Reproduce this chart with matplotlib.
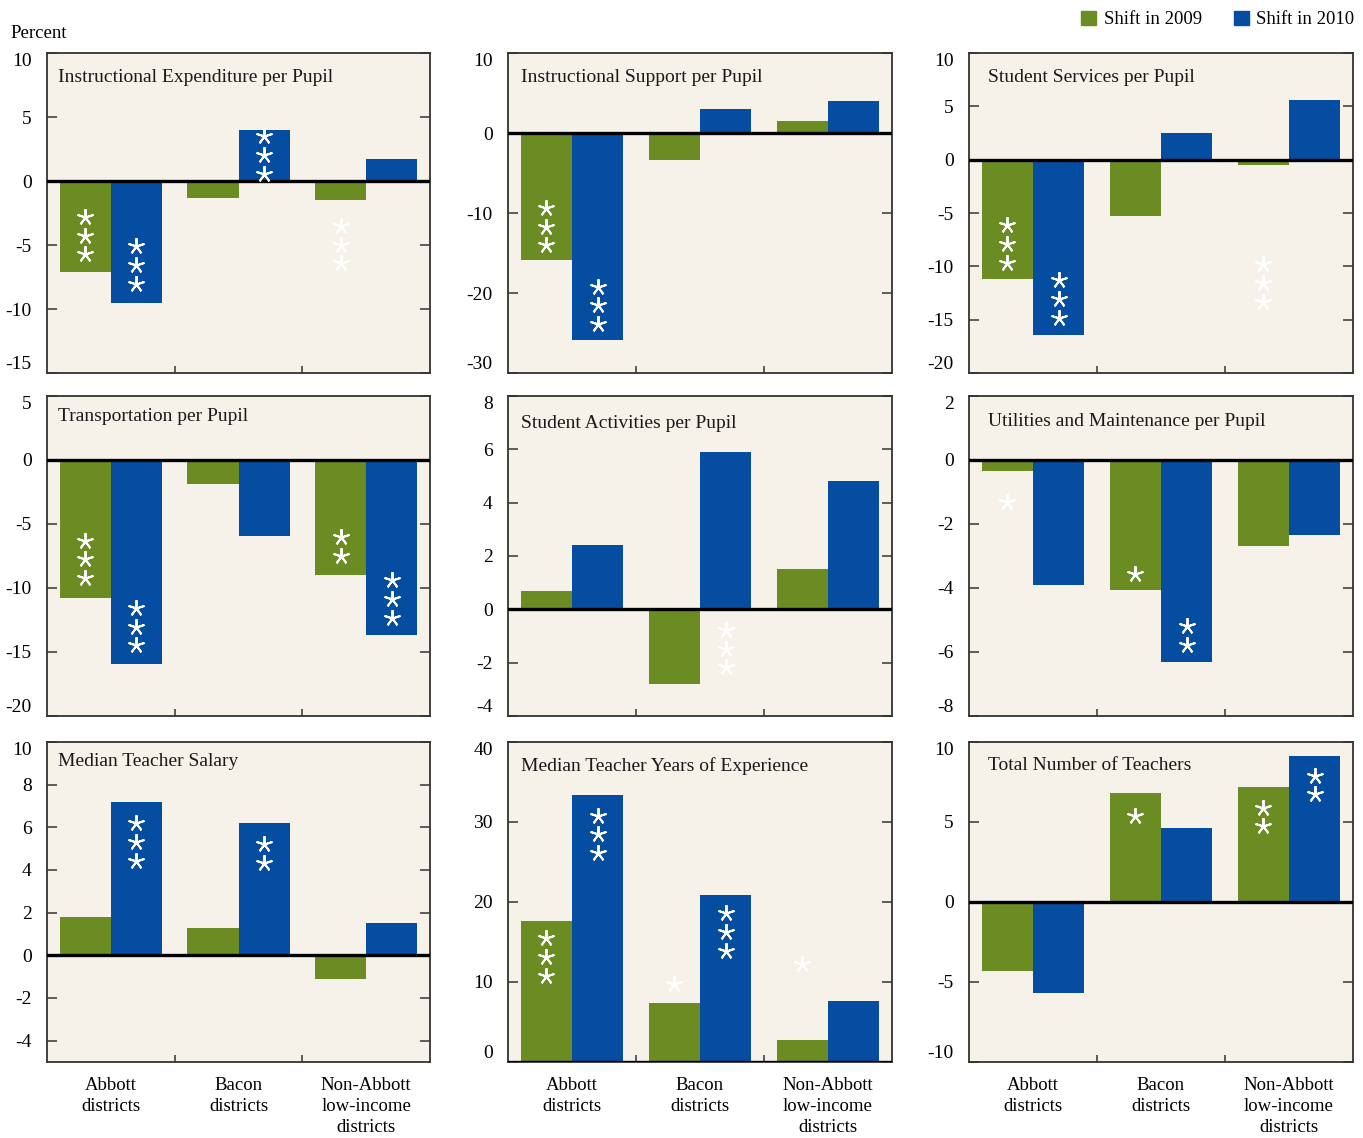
import matplotlib.pyplot as plt
from matplotlib.patches import Patch
from matplotlib.transforms import offset_copy

plt.rcParams['font.family'] = ['Liberation Serif', 'DejaVu Serif']
plt.rcParams['axes.unicode_minus'] = False

# Panel titles and district groups
titles = [
    "Instructional Expenditure per Pupil",
    "Instructional Support per Pupil",
    "Student Services per Pupil",
    "Transportation per Pupil",
    "Student Activities per Pupil",
    "Utilities and Maintenance per Pupil",
    "Median Teacher Salary",
    "Median Teacher Years of Experience",
    "Total Number of Teachers",
]
groups = ["Abbott\ndistricts", "Bacon\ndistricts", "Non-Abbott\nlow-income\ndistricts"]

# Percent shifts (Abbott, Bacon, Non-Abbott) for each panel
shift_2009 = [
    [-7.1, -1.3, -1.5],
    [-15.9, -3.4, 1.5],
    [-11.2, -5.3, -0.5],
    [-10.8, -1.9, -9.0],
    [0.7, -2.8, 1.5],
    [-0.35, -4.05, -2.7],
    [1.8, 1.3, -1.1],
    [17.6, 7.4, 2.8],
    [-4.3, 6.8, 7.2],
]
shift_2010 = [
    [-9.5, 4.0, 1.7],
    [-25.9, 3.0, 4.0],
    [-16.4, 2.5, 5.6],
    [-15.9, -5.9, -13.7],
    [2.4, 5.9, 4.8],
    [-3.9, -6.3, -2.35],
    [7.2, 6.2, 1.5],
    [33.4, 20.9, 7.6],
    [-5.7, 4.6, 9.1],
]

# Significance stars (count) and where the first star sits
stars_2009 = [[3, 0, 3], [3, 0, 0], [3, 0, 3], [3, 0, 2], [0, 0, 0],
              [1, 1, 0], [0, 0, 0], [3, 1, 1], [0, 1, 2]]
stars_2010 = [[3, 3, 0], [3, 0, 0], [3, 0, 0], [3, 0, 3], [0, 3, 0],
              [0, 2, 0], [3, 2, 0], [3, 3, 0], [0, 0, 2]]
star_y_2009 = [[-2.8, 0, -3.5], [-9.35, 0, 0], [-6.15, 0, -9.8], [-6.3, 0, -6.05],
               [0, 0, 0], [-1.32, -3.55, 0], [0, 0, 0], [15.5, 9.8, 12.2], [0, 5.4, 5.9]]
star_y_2010 = [[-5.1, 3.5, 0], [-19.2, 0, 0], [-11.3, 0, 0], [-11.55, 0, -9.4],
               [0, -0.77, 0], [0, -5.2, 0], [6.2, 5.2, 0], [30.8, 18.6, 0], [0, 0, 7.9]]

# Axis ranges and tick marks
y_limits = [(-15, 10), (-30, 10), (-20, 10), (-20, 5), (-4, 8),
            (-8, 2), (-5, 10), (0, 40), (-10, 10)]
y_ticks = [
    range(-15, 11, 5), range(-30, 11, 10), range(-20, 11, 5),
    range(-20, 6, 5), range(-4, 9, 2), range(-8, 3, 2),
    range(-4, 11, 2), range(0, 41, 10), range(-10, 11, 5),
]

green = "#6b8b23"
blue = "#044da0"
panel_bg = "#f6f2ea"

W, H = 1363, 1138
fig = plt.figure(figsize=(W / 100, H / 100), dpi=100)

col_left = [47, 508, 969]
col_width = [383, 384, 384]
row_top = [53, 396, 742]
ax_h = 320
title_x = [0.03, 0.034, 0.05]
title_y = [0.925, 0.925, 0.925, 0.935, 0.915, 0.92, 0.938, 0.924, 0.925]

for k in range(9):
    r, c = divmod(k, 3)
    ax = fig.add_axes([col_left[c] / W, 1 - (row_top[r] + ax_h) / H,
                       col_width[c] / W, ax_h / H])
    ax.set_facecolor(panel_bg)

    xs = [i + 0.3 for i in range(3)]
    xb = [i + 0.7 for i in range(3)]
    ax.bar(xs, shift_2009[k], width=0.4, color=green, zorder=2)
    ax.bar(xb, shift_2010[k], width=0.4, color=blue, zorder=2)
    ax.axhline(0, color="black", lw=2.4, zorder=3)

    # stacked significance stars, fixed spacing in points
    for xpos, counts, tops in ((xs, stars_2009[k], star_y_2009[k]),
                               (xb, stars_2010[k], star_y_2010[k])):
        for i in range(3):
            for n in range(counts[i]):
                tr = offset_copy(ax.transData, fig=fig, y=-13.5 * n, units="points")
                ax.plot(xpos[i], tops[i], marker=(5, 2, 0), ms=12, mew=1.4,
                        color="white", transform=tr, zorder=4)

    lo, hi = y_limits[k]
    ax.set_xlim(0, 3)
    ax.set_ylim(lo, hi)
    ax.set_yticks(list(y_ticks[k]))
    ax.tick_params(axis="y", direction="in", length=7, width=1.1, pad=11,
                   labelsize=14, right=True, color="#333333")
    # labels sitting on the frame edge are tucked inside the panel height
    for val, lbl in zip(y_ticks[k], ax.get_yticklabels()):
        if val == hi:
            lbl.set_va("top")
            lbl.set_y(hi - 0.008 * (hi - lo))
        elif val == lo:
            lbl.set_va("bottom")
            lbl.set_y(lo + 0.012 * (hi - lo))

    ax.set_xticks([1, 2])
    ax.set_xticklabels([])
    ax.tick_params(axis="x", which="major", direction="in", length=5, width=1.1,
                   color="#333333")
    if r == 2:
        ax.set_xticks([0.5, 1.5, 2.5], groups, minor=True)
        ax.tick_params(axis="x", which="minor", length=0, pad=11, labelsize=13.5)
        for lbl in ax.get_xticklabels(minor=True):
            lbl.set_linespacing(1.3)
    for sp in ax.spines.values():
        sp.set_color("#333333")
        sp.set_linewidth(1.3)

    ax.text(title_x[c], title_y[k], titles[k], transform=ax.transAxes,
            fontsize=14, va="center", ha="left", color="#1a1a1a")

fig.text(10 / W, 1 - 33 / H, "Percent", fontsize=13.5, va="center", ha="left")

handles = [Patch(color=green, label="Shift in 2009"),
           Patch(color=blue, label="Shift in 2010")]
fig.legend(handles=handles, loc="upper right", bbox_to_anchor=(1362 / W, 1 - 3 / H),
           ncol=2, frameon=False, fontsize=13.5, handlelength=0.8, handleheight=0.8,
           handletextpad=0.4, columnspacing=1.7, borderaxespad=0)

fig.savefig("out.png", dpi=100, facecolor="white")
